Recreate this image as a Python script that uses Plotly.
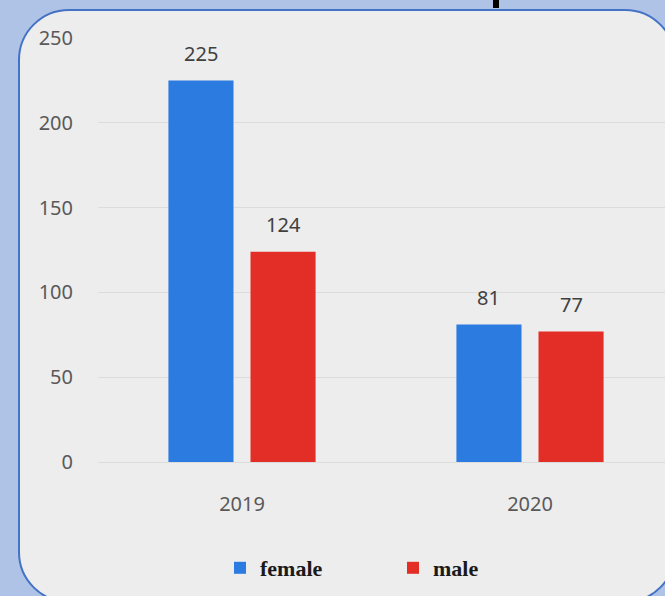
import plotly.graph_objects as go

categories = ["2019", "2020"]
female = [225, 81]
male = [124, 77]
series_names = ["female", "male"]
series_values = [female, male]
series_colors = ["#2B7BE0", "#E32E28"]
y_ticks = [0, 50, 100, 150, 200, 250]

W, H = 665, 596
ML, MR, MT, MB = 98, 0, 38, 134
PW, PH = W - ML - MR, H - MT - MB


def px2paper(x, y):
    return (x - ML) / PW, (H - MB - y) / PH


def rounded_rect(l, t, r, b, rad):
    k = 0.5523 * rad
    def P(x, y):
        xp, yp = px2paper(x, y)
        return f"{xp:.5f},{yp:.5f}"
    d = f"M {P(l + rad, t)} L {P(r - rad, t)} "
    d += f"C {P(r - rad + k, t)} {P(r, t + rad - k)} {P(r, t + rad)} "
    d += f"L {P(r, b - rad)} "
    d += f"C {P(r, b - rad + k)} {P(r - rad + k, b)} {P(r - rad, b)} "
    d += f"L {P(l + rad, b)} "
    d += f"C {P(l + rad - k, b)} {P(l, b - rad + k)} {P(l, b - rad)} "
    d += f"L {P(l, t + rad)} "
    d += f"C {P(l, t + rad - k)} {P(l + rad - k, t)} {P(l + rad, t)} Z"
    return d


fig = go.Figure()
for name, vals, col in zip(series_names, series_values, series_colors):
    fig.add_trace(go.Bar(x=categories, y=vals, name=name, marker_color=col,
                         marker_line_width=0))

annotations = []
offsets = [-41.5, 41.5]
for vals, off in zip(series_values, offsets):
    for j, v in enumerate(vals):
        annotations.append(dict(x=j, y=v, xref="x", yref="y", text=str(v),
                                showarrow=False, xshift=off, yshift=27,
                                yanchor="middle",
                                font=dict(family="Noto Sans", size=20, color="#404040")))

bx0, by0 = px2paper(493, 0)
bx1, by1 = px2paper(499, 8)
shapes = [
    dict(type="path", xref="paper", yref="paper", path=rounded_rect(19, 10, 675, 602, 50),
         fillcolor="#EDEDED", line=dict(color="#4472C4", width=2), layer="below"),
    dict(type="rect", xref="paper", yref="paper", x0=bx0, x1=bx1, y0=by1, y1=by0,
         fillcolor="#000000", line=dict(width=0), layer="above"),
]

lx, ly = px2paper(393, 568)
fig.update_layout(
    width=W, height=H, autosize=False,
    margin=dict(l=ML, r=MR, t=MT, b=MB, pad=0),
    paper_bgcolor="#AEC3E6", plot_bgcolor="rgba(0,0,0,0)",
    barmode="group", bargap=0.43, bargroupgap=0.207,
    shapes=shapes, annotations=annotations,
    showlegend=True,
    legend=dict(orientation="h", x=lx, y=ly, xanchor="center", yanchor="middle",
                bgcolor="rgba(0,0,0,0)", entrywidth=128, entrywidthmode="pixels",
                font=dict(family="Liberation Serif", size=22, color="#1a1a1a",
                          weight="bold")),
    xaxis=dict(type="category", range=[-0.5, 1.5 - 9 / 288], showgrid=False,
               zeroline=False, showline=False, ticks="", ticklabelstandoff=28,
               tickfont=dict(family="Noto Sans", size=20, color="#595959")),
    yaxis=dict(range=[0, 250], tickvals=y_ticks, showgrid=True, gridcolor="#DCDCDC",
               gridwidth=1, zeroline=True, zerolinecolor="#DCDCDC", zerolinewidth=1,
               showline=False, ticks="", ticklabelstandoff=24,
               tickfont=dict(family="Noto Sans", size=20, color="#595959")),
)

fig.write_html("out.html",
               config={"displayModeBar": False},
               post_script="document.body.style.margin='0';"
                           "document.body.style.background='#AEC3E6';"
                           "document.body.style.overflow='hidden';")
